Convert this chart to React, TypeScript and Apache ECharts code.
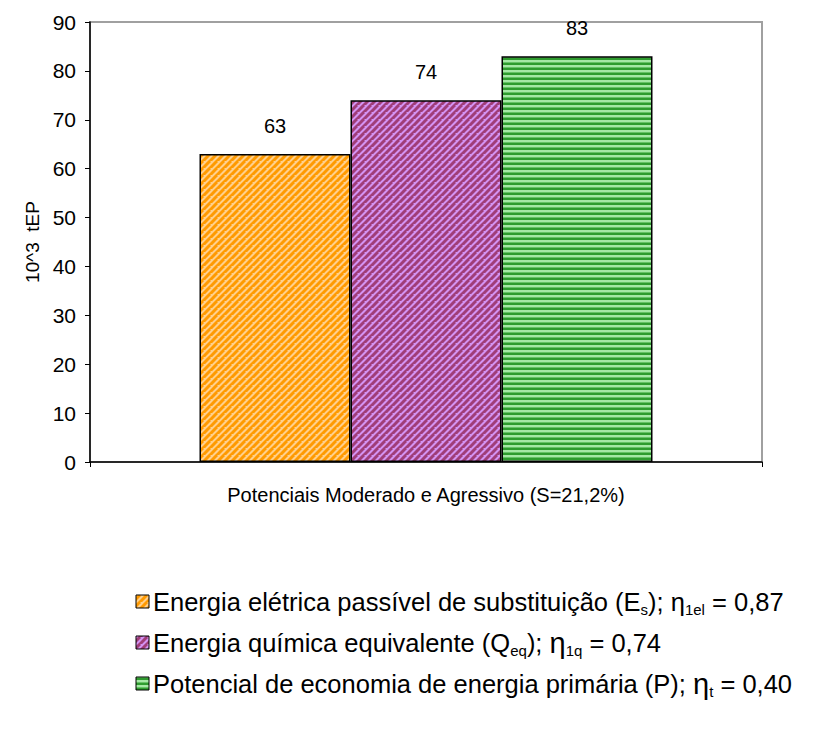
import React, { useEffect, useRef } from "react";
import * as echarts from "echarts";

const categories = ["Potenciais Moderado e Agressivo (S=21,2%)"];
const seriesNames = [
  "Energia elétrica passível de substituição (Es); η1el = 0,87",
  "Energia química equivalente (Qeq); η1q = 0,74",
  "Potencial de economia de energia primária (P); ηt = 0,40",
];
const electricValues = [63];
const chemicalValues = [74];
const primaryValues = [83];
const yTicks = { min: 0, max: 90, interval: 10 };

function diagPattern(dark: string, light: string, size: number, w: number) {
  const c = document.createElement("canvas");
  c.width = size;
  c.height = size;
  const ctx = c.getContext("2d")!;
  ctx.fillStyle = light;
  ctx.fillRect(0, 0, size, size);
  ctx.strokeStyle = dark;
  ctx.lineWidth = w;
  for (let k = -1; k <= 2; k++) {
    ctx.beginPath();
    ctx.moveTo(k * size - size, size * 2);
    ctx.lineTo(k * size + size, 0);
    ctx.stroke();
  }
  return c;
}

function horizPattern(dark: string, mid: string, light: string) {
  const c = document.createElement("canvas");
  c.width = 5;
  c.height = 5;
  const ctx = c.getContext("2d")!;
  ctx.fillStyle = light;
  ctx.fillRect(0, 0, 5, 5);
  ctx.fillStyle = mid;
  ctx.fillRect(0, 2, 5, 1);
  ctx.fillStyle = dark;
  ctx.fillRect(0, 3, 5, 2);
  return c;
}

export default function App() {
  const ref = useRef<HTMLDivElement>(null);
  useEffect(() => {
    if (!ref.current) return;
    const chart = echarts.init(ref.current, undefined, { renderer: "svg" });
    const orange = diagPattern("#FF9A00", "#FFD08C", 7, 3);
    const purple = diagPattern("#A03D78", "#D393F2", 7, 3);
    const green = horizPattern("#2F9C2F", "#66C266", "#A6E8A6");
    const pats = [orange, purple, green];
    const vals = [electricValues, chemicalValues, primaryValues];
    const font = "'Liberation Sans', Arial, sans-serif";

    const rowYs = [602, 643, 684];
    const rowTexts = [
      "{m|Energia elétrica passível de substituição (E}{s|s}{m|); η}{s|1el}{m| = 0,87}",
      "{m|Energia química equivalente (Q}{s|eq}{m|); }{e|η}{s|1q}{m| = 0,74}",
      "{m|Potencial de economia de energia primária (P); }{e|η}{s|t}{m| = 0,40}",
    ];
    const rich = {
      m: { fontSize: 25.5, fontFamily: font, color: "#000", lineHeight: 30, verticalAlign: "middle" },
      e: { fontSize: 29, fontFamily: font, color: "#000", lineHeight: 30, verticalAlign: "middle" },
      s: { fontSize: 15, fontFamily: font, color: "#000", lineHeight: 15, verticalAlign: "bottom" },
    };
    const graphics: any[] = [];
    rowYs.forEach((y, i) => {
      graphics.push({
        type: "rect",
        shape: { x: 136, y: y - 7, width: 13, height: 13 },
        style: { fill: { image: pats[i], repeat: "repeat" }, stroke: "#000", lineWidth: 1 },
      });
      graphics.push({
        type: "text",
        x: 153,
        y: y,
        style: { text: rowTexts[i], rich, verticalAlign: "middle", align: "left" },
      });
    });

    chart.setOption({
      animation: false,
      grid: {
        left: 90,
        top: 22,
        right: 62,
        bottom: 271,
        show: true,
        borderColor: "#a0a0a0",
        borderWidth: 2,
        backgroundColor: "transparent",
      },
      xAxis: {
        type: "category",
        data: categories,
        axisLine: { lineStyle: { color: "#000", width: 1.5 } },
        axisTick: { show: true, length: 5, lineStyle: { color: "#000" } },
        axisLabel: { color: "#000", fontSize: 20, fontFamily: font, margin: 23 },
      },
      yAxis: {
        type: "value",
        min: yTicks.min,
        max: yTicks.max,
        interval: yTicks.interval,
        name: "10^3  tEP",
        nameLocation: "middle",
        nameGap: 45,
        nameTextStyle: { color: "#000", fontSize: 19, fontFamily: font },
        axisLine: { show: true, lineStyle: { color: "#000", width: 1.5 } },
        axisTick: { show: true, length: 5, lineStyle: { color: "#000" } },
        axisLabel: { color: "#000", fontSize: 21, fontFamily: font, margin: 14 },
        splitLine: { show: false },
      },
      series: seriesNames.map((n, i) => ({
        name: n,
        type: "bar",
        data: vals[i],
        barWidth: 151,
        barGap: "0%",
        itemStyle: {
          color: { image: pats[i], repeat: "repeat" },
          borderColor: "#000",
          borderWidth: 1.5,
        },
        label: {
          show: true,
          position: "top",
          distance: 18,
          color: "#000",
          fontSize: 20,
          fontFamily: font,
        },
      })),
      graphic: graphics,
    });
    return () => chart.dispose();
  }, []);
  return <div ref={ref} style={{ width: 824, height: 733, margin: -8 }} />;
}
